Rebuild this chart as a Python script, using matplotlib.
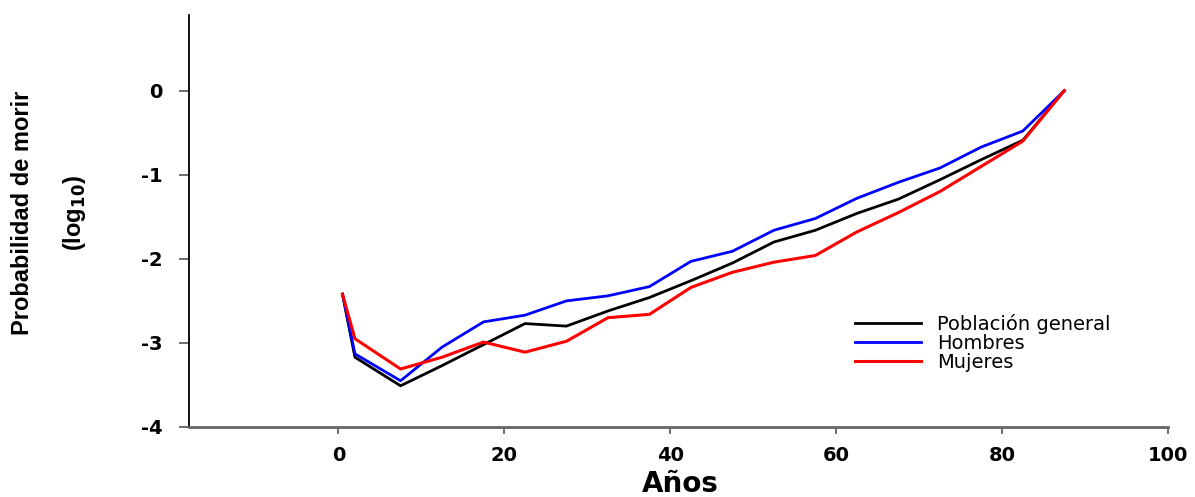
import numpy as np
import matplotlib
matplotlib.use("Agg")
import matplotlib.pyplot as plt

plt.rcParams['axes.unicode_minus'] = False

# Edad (punto medio del grupo) y probabilidad de morir (log10)
edad = [0.5, 2, 7.5, 12.5, 17.5, 22.5, 27.5, 32.5, 37.5, 42.5, 47.5,
        52.5, 57.5, 62.5, 67.5, 72.5, 77.5, 82.5, 87.5]
general = [-2.42, -3.17, -3.51, -3.27, -3.02, -2.77, -2.80, -2.62, -2.46,
           -2.26, -2.05, -1.80, -1.66, -1.46, -1.29, -1.06, -0.82, -0.59, 0.0]
hombres = [-2.42, -3.13, -3.45, -3.05, -2.75, -2.67, -2.50, -2.44, -2.33,
           -2.03, -1.91, -1.66, -1.52, -1.28, -1.09, -0.92, -0.67, -0.48, 0.0]
mujeres = [-2.42, -2.95, -3.31, -3.17, -2.99, -3.11, -2.98, -2.70, -2.66,
           -2.34, -2.16, -2.04, -1.96, -1.68, -1.45, -1.20, -0.90, -0.60, 0.0]

xticks = [0, 20, 40, 60, 80, 100]
yticks = [0, -1, -2, -3, -4]

fig = plt.figure(figsize=(11.95, 4.97), dpi=100)
ax = fig.add_axes([189 / 1195, 70 / 497, (1168 - 189) / 1195, (427 - 15) / 497])

ax.plot(edad, general, color='black', lw=2.0, label='Población general')
ax.plot(edad, hombres, color='#0000ff', lw=2.0, label='Hombres')
ax.plot(edad, mujeres, color='#ff0000', lw=2.2, label='Mujeres')

ax.set_xlim(-18, 100)
ax.set_ylim(-4, 0.9)
ax.set_xticks(xticks)
ax.set_yticks(yticks)

for lab in ax.get_xticklabels() + ax.get_yticklabels():
    lab.set_fontfamily('DejaVu Sans')
    lab.set_fontweight('bold')
    lab.set_fontsize(14)

ax.tick_params(axis='x', direction='out', length=5, width=1.2, color='#555555', pad=9)
ax.tick_params(axis='y', direction='out', length=7, width=1.2, color='#555555', pad=12)

ax.spines['top'].set_visible(False)
ax.spines['right'].set_visible(False)
ax.spines['left'].set_color('black')
ax.spines['left'].set_linewidth(1.3)
ax.spines['bottom'].set_color('#666666')
ax.spines['bottom'].set_linewidth(2.0)

fig.text(23 / 1195, 1 - 213 / 497, 'Probabilidad de morir', rotation=90,
         ha='center', va='center', fontsize=17, fontweight='bold',
         fontfamily='Liberation Sans')
fig.text(75 / 1195, 1 - 213 / 497, r'(log$_{\mathbf{10}}$)', rotation=90,
         ha='center', va='center', fontsize=17, fontweight='bold',
         fontfamily='Liberation Sans')
fig.text(680 / 1195, 1 - 470 / 497, 'Años', ha='center', va='top',
         fontsize=20, fontweight='bold', fontfamily='DejaVu Sans')

ax.legend(loc='upper left', bbox_to_anchor=(855 / 1195, 1 - 314 / 497),
          bbox_transform=fig.transFigure, frameon=False, borderpad=0,
          borderaxespad=0, handlelength=3.4, handletextpad=0.8,
          labelspacing=0.0, prop={'family': 'DejaVu Sans', 'size': 14})

fig.savefig('out.png', dpi=100)
